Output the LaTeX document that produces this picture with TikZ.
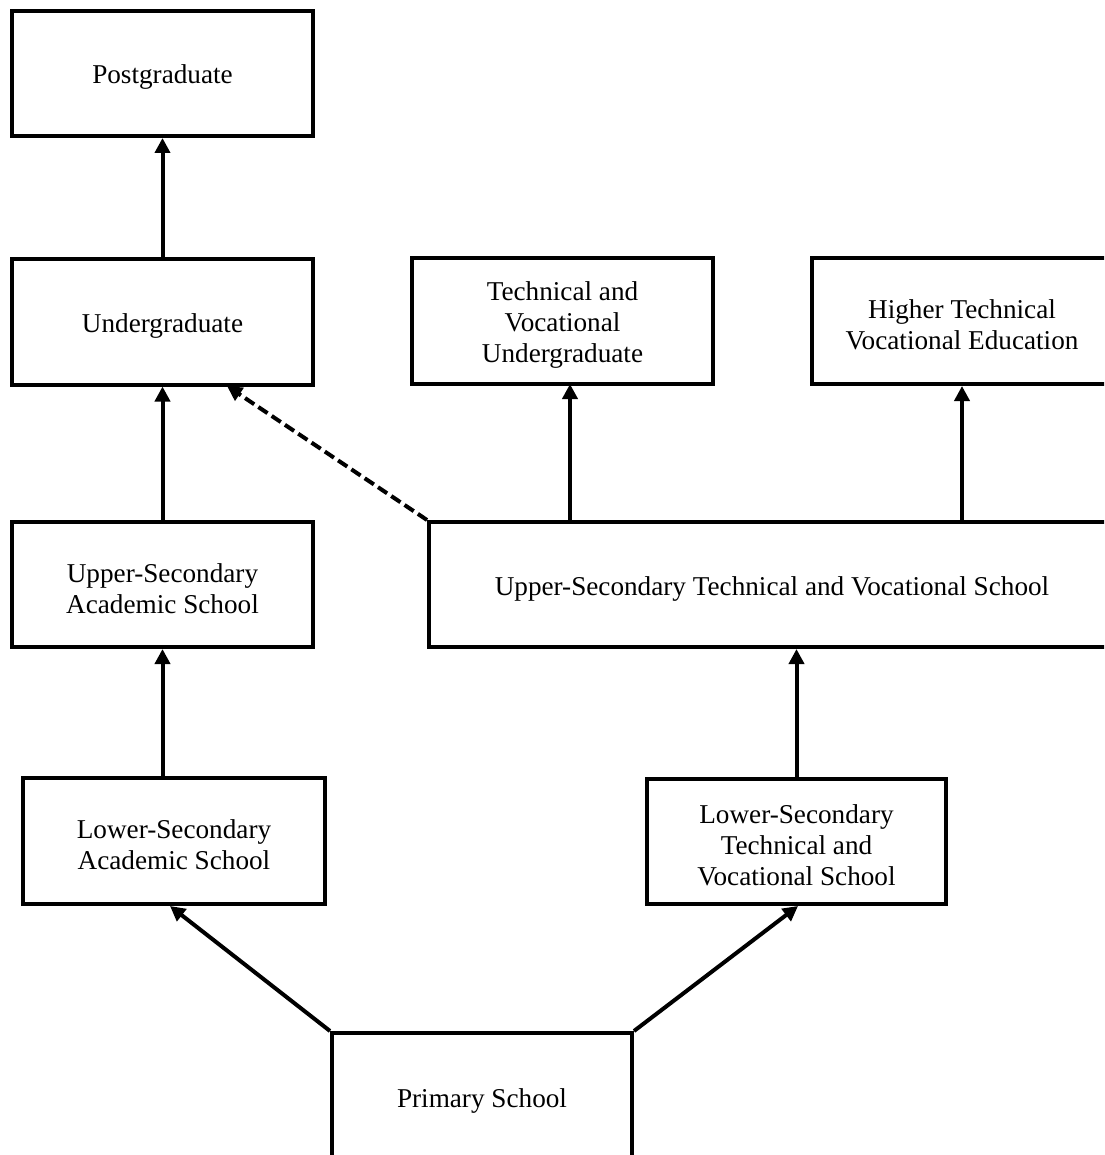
\documentclass[tikz,border=0pt]{standalone}
\usepackage{fontspec}
\setmainfont{Liberation Serif}
\usetikzlibrary{arrows.meta}
\begin{document}
\begin{tikzpicture}[x=1pt,y=-1pt,
  box/.style={draw,line width=4pt,line join=miter,align=center,inner sep=0pt,
    font=\fontsize{27.2}{31}\selectfont},
  lowtext/.style={label={[font=\fontsize{27.2}{31}\selectfont,align=center,yshift=-4pt]center:#1}},
  arr/.style={line width=4pt,-{Triangle[length=15pt,width=15pt]}},
  dasharr/.style={arr,dash pattern=on 11pt off 5pt}]
\useasboundingbox (0,0) rectangle (1104,1155);
\clip (0,0) rectangle (1104,1155);
% academic track
\node[box,minimum width=301pt,minimum height=125pt,lowtext={Postgraduate}] (post) at (162.5,73.5) {};
\node[box,minimum width=301pt,minimum height=125pt,lowtext={Undergraduate}] (under) at (162.5,322) {};
\node[box,minimum width=301pt,minimum height=125pt,lowtext={Upper-Secondary\\Academic School}] (usa) at (162.5,584.5) {};
\node[box,minimum width=302pt,minimum height=126pt,lowtext={Lower-Secondary\\Academic School}] (lsa) at (174,841) {};
% technical and vocational track
\node[box,minimum width=301pt,minimum height=126pt,lowtext={Technical and\\Vocational\\Undergraduate}] (tvu) at (562.5,321) {};
\node[box,minimum width=300pt,minimum height=126pt,lowtext={Higher Technical\\Vocational Education}] (htve) at (962,321) {};
\node[box,minimum width=686pt,minimum height=125pt,lowtext={Upper-Secondary Technical and Vocational School}] (ustv) at (772,584.5) {};
\node[box,minimum width=299pt,minimum height=125pt,lowtext={Lower-Secondary\\Technical and\\Vocational School}] (lstv) at (796.5,841.5) {};
% common start
\node[box,minimum width=300pt,minimum height=128pt,lowtext={Primary School}] (prim) at (482,1097) {};
% helper points on box edges
\coordinate (tvuin) at (570,384);
\coordinate (ustvout) at (570,522);
\coordinate (dashtip) at (227,386);
\coordinate (lsain) at (170,906);
\coordinate (lstvin) at (798,906);
% connectors
\draw[arr] (under.north) -- (post.south);
\draw[arr] (usa.north) -- (under.south);
\draw[arr] (usa.south |- lsa.north) -- (usa.south);
\draw[arr] (prim.north west) -- (lsain);
\draw[arr] (prim.north east) -- (lstvin);
\draw[arr] (lstv.north) -- (lstv.north |- ustv.south);
\draw[arr] (ustvout) -- (tvuin);
\draw[arr] (htve.south |- ustv.north) -- (htve.south);
\draw[dasharr] (ustv.north west) -- (dashtip);
\end{tikzpicture}
\end{document}
